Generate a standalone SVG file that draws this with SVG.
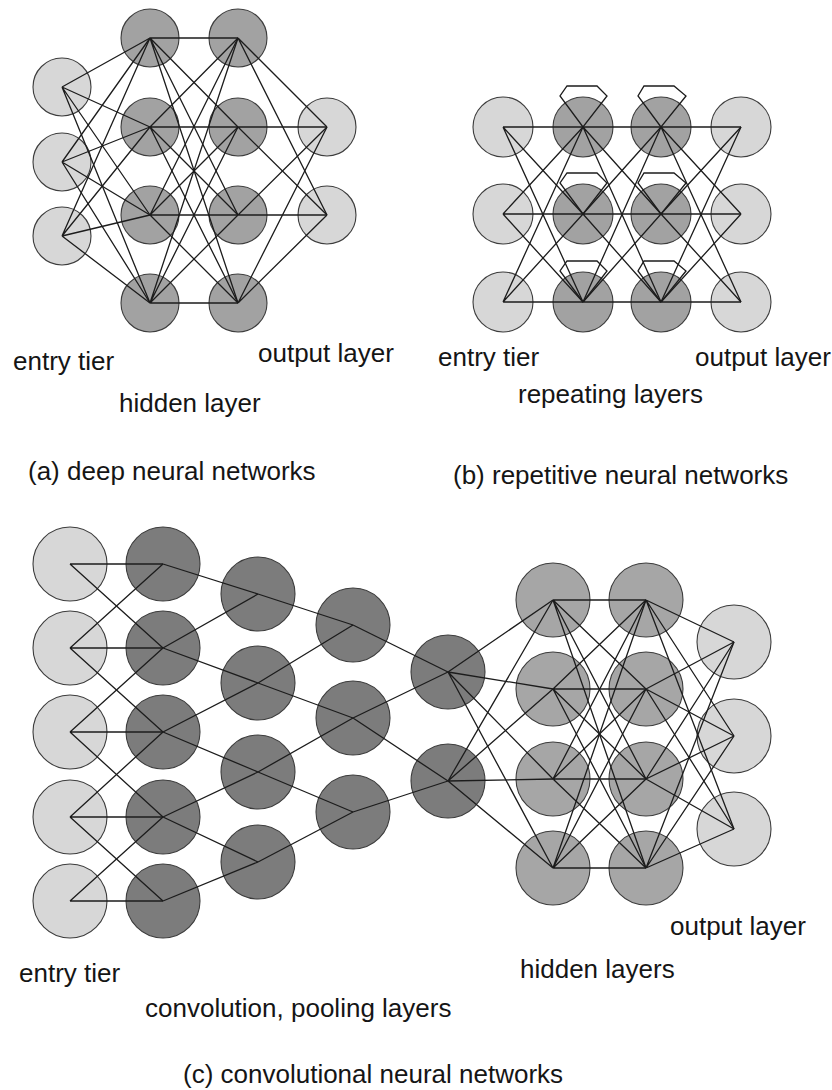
<svg xmlns="http://www.w3.org/2000/svg" width="832" height="1090" viewBox="0 0 832 1090">
<style>
.n{stroke:#3c3c3c;stroke-width:1.1}
.lt{fill:#d7d7d7}
.md{fill:#a2a2a2}
.mc{fill:#a6a6a6}
.dk{fill:#7c7c7c}
.e{fill:none;stroke:#1c1c1c;stroke-width:1.3;stroke-linejoin:miter}
text{font-family:"Liberation Sans",Arial,sans-serif;font-size:26px;fill:#151515}
</style>
<rect width="832" height="1090" fill="#ffffff"/>

<!-- Panel (a) nodes -->
<g id="a-in1"><circle class="n lt" cx="62" cy="87" r="29"/></g>
<g id="a-in2"><circle class="n lt" cx="62" cy="162" r="29"/></g>
<g id="a-in3"><circle class="n lt" cx="62" cy="236" r="29"/></g>
<g id="a-h1-1"><circle class="n md" cx="150" cy="38" r="29"/></g>
<g id="a-h1-2"><circle class="n md" cx="150" cy="127" r="29"/></g>
<g id="a-h1-3"><circle class="n md" cx="150" cy="215" r="29"/></g>
<g id="a-h1-4"><circle class="n md" cx="150" cy="303" r="29"/></g>
<g id="a-h2-1"><circle class="n md" cx="238" cy="38" r="29"/></g>
<g id="a-h2-2"><circle class="n md" cx="238" cy="127" r="29"/></g>
<g id="a-h2-3"><circle class="n md" cx="238" cy="215" r="29"/></g>
<g id="a-h2-4"><circle class="n md" cx="238" cy="303" r="29"/></g>
<g id="a-out1"><circle class="n lt" cx="327" cy="127" r="29"/></g>
<g id="a-out2"><circle class="n lt" cx="327" cy="215" r="29"/></g>

<!-- Panel (b) nodes -->
<g id="b-in1"><circle class="n lt" cx="503" cy="127" r="30"/></g>
<g id="b-in2"><circle class="n lt" cx="503" cy="214" r="30"/></g>
<g id="b-in3"><circle class="n lt" cx="503" cy="302" r="30"/></g>
<g id="b-h1-1"><circle class="n md" cx="583" cy="127" r="30"/></g>
<g id="b-h1-2"><circle class="n md" cx="583" cy="214" r="30"/></g>
<g id="b-h1-3"><circle class="n md" cx="583" cy="302" r="30"/></g>
<g id="b-h2-1"><circle class="n md" cx="661" cy="127" r="30"/></g>
<g id="b-h2-2"><circle class="n md" cx="661" cy="214" r="30"/></g>
<g id="b-h2-3"><circle class="n md" cx="661" cy="302" r="30"/></g>
<g id="b-out1"><circle class="n lt" cx="741" cy="127" r="30"/></g>
<g id="b-out2"><circle class="n lt" cx="741" cy="214" r="30"/></g>
<g id="b-out3"><circle class="n lt" cx="741" cy="302" r="30"/></g>

<!-- Panel (c) nodes -->
<g id="c-in1"><circle class="n lt" cx="70" cy="564" r="37"/></g>
<g id="c-in2"><circle class="n lt" cx="70" cy="648" r="37"/></g>
<g id="c-in3"><circle class="n lt" cx="70" cy="732" r="37"/></g>
<g id="c-in4"><circle class="n lt" cx="70" cy="817" r="37"/></g>
<g id="c-in5"><circle class="n lt" cx="70" cy="901" r="37"/></g>
<g id="c-c1-1"><circle class="n dk" cx="163" cy="564" r="37"/></g>
<g id="c-c1-2"><circle class="n dk" cx="163" cy="648" r="37"/></g>
<g id="c-c1-3"><circle class="n dk" cx="163" cy="732" r="37"/></g>
<g id="c-c1-4"><circle class="n dk" cx="163" cy="817" r="37"/></g>
<g id="c-c1-5"><circle class="n dk" cx="163" cy="901" r="37"/></g>
<g id="c-c2-1"><circle class="n dk" cx="258" cy="594" r="37"/></g>
<g id="c-c2-2"><circle class="n dk" cx="258" cy="683" r="37"/></g>
<g id="c-c2-3"><circle class="n dk" cx="258" cy="772" r="37"/></g>
<g id="c-c2-4"><circle class="n dk" cx="258" cy="862" r="37"/></g>
<g id="c-c3-1"><circle class="n dk" cx="353" cy="625" r="37"/></g>
<g id="c-c3-2"><circle class="n dk" cx="353" cy="718" r="37"/></g>
<g id="c-c3-3"><circle class="n dk" cx="353" cy="812" r="37"/></g>
<g id="c-c4-1"><circle class="n dk" cx="448" cy="672" r="37"/></g>
<g id="c-c4-2"><circle class="n dk" cx="448" cy="781" r="37"/></g>
<g id="c-h1-1"><circle class="n mc" cx="553" cy="600" r="37"/></g>
<g id="c-h1-2"><circle class="n mc" cx="553" cy="689" r="37"/></g>
<g id="c-h1-3"><circle class="n mc" cx="553" cy="779" r="37"/></g>
<g id="c-h1-4"><circle class="n mc" cx="553" cy="868" r="37"/></g>
<g id="c-h2-1"><circle class="n mc" cx="646" cy="600" r="37"/></g>
<g id="c-h2-2"><circle class="n mc" cx="646" cy="689" r="37"/></g>
<g id="c-h2-3"><circle class="n mc" cx="646" cy="779" r="37"/></g>
<g id="c-h2-4"><circle class="n mc" cx="646" cy="868" r="37"/></g>
<g id="c-out1"><circle class="n lt" cx="734" cy="642" r="37"/></g>
<g id="c-out2"><circle class="n lt" cx="734" cy="736" r="37"/></g>
<g id="c-out3"><circle class="n lt" cx="734" cy="829" r="37"/></g>

<g id="connectors">
<!-- (a) -->
<path class="e" d="M62 87L150 38M62 87L150 127M62 87L150 215M62 87L150 303"/>
<path class="e" d="M62 162L150 38M62 162L150 127M62 162L150 215M62 162L150 303"/>
<path class="e" d="M62 236L150 38M62 236L150 127M62 236L150 215M62 236L150 303"/>
<path class="e" d="M150 38L238 38M150 38L238 127M150 38L238 215M150 38L238 303"/>
<path class="e" d="M150 127L238 38M150 127L238 127M150 127L238 215M150 127L238 303"/>
<path class="e" d="M150 215L238 38M150 215L238 127M150 215L238 215M150 215L238 303"/>
<path class="e" d="M150 303L238 38M150 303L238 127M150 303L238 215M150 303L238 303"/>
<path class="e" d="M238 38L327 127M238 38L327 215"/>
<path class="e" d="M238 127L327 127M238 127L327 215"/>
<path class="e" d="M238 215L327 127M238 215L327 215"/>
<path class="e" d="M238 303L327 127M238 303L327 215"/>
<!-- (b) -->
<path class="e" d="M503 127L583 127M503 127L583 214M503 127L583 302"/>
<path class="e" d="M503 214L583 127M503 214L583 214M503 214L583 302"/>
<path class="e" d="M503 302L583 127M503 302L583 214M503 302L583 302"/>
<path class="e" d="M583 127L661 127M583 127L661 214M583 127L661 302"/>
<path class="e" d="M583 214L661 127M583 214L661 214M583 214L661 302"/>
<path class="e" d="M583 302L661 127M583 302L661 214M583 302L661 302"/>
<path class="e" d="M661 127L741 127M661 127L741 214M661 127L741 302"/>
<path class="e" d="M661 214L741 127M661 214L741 214M661 214L741 302"/>
<path class="e" d="M661 302L741 127M661 302L741 214M661 302L741 302"/>
<path class="e" d="M583 127L560 96L567 86L597 86L607 96Z"/>
<path class="e" d="M583 214L560 183L567 173L597 173L607 183Z"/>
<path class="e" d="M583 302L560 271L567 261L597 261L607 271Z"/>
<path class="e" d="M661 127L638 96L644 86L674 86L686 96Z"/>
<path class="e" d="M661 214L638 183L644 173L674 173L686 183Z"/>
<path class="e" d="M661 302L638 271L644 261L674 261L686 271Z"/>
<!-- (c) -->
<path class="e" d="M70 564L163 564M70 564L163 648"/>
<path class="e" d="M70 648L163 564M70 648L163 648M70 648L163 732"/>
<path class="e" d="M70 732L163 648M70 732L163 732M70 732L163 817"/>
<path class="e" d="M70 817L163 732M70 817L163 817M70 817L163 901"/>
<path class="e" d="M70 901L163 817M70 901L163 901"/>
<path class="e" d="M163 564L258 594"/>
<path class="e" d="M163 648L258 594M163 648L258 683"/>
<path class="e" d="M163 732L258 683M163 732L258 772"/>
<path class="e" d="M163 817L258 772M163 817L258 862"/>
<path class="e" d="M163 901L258 862"/>
<path class="e" d="M258 594L353 625"/>
<path class="e" d="M258 683L353 625M258 683L353 718"/>
<path class="e" d="M258 772L353 718M258 772L353 812"/>
<path class="e" d="M258 862L353 812"/>
<path class="e" d="M353 625L448 672"/>
<path class="e" d="M353 718L448 672M353 718L448 781"/>
<path class="e" d="M353 812L448 781"/>
<path class="e" d="M448 672L553 600M448 672L553 689M448 672L553 779M448 672L553 868"/>
<path class="e" d="M448 781L553 600M448 781L553 689M448 781L553 779M448 781L553 868"/>
<path class="e" d="M553 600L646 600M553 600L646 689M553 600L646 779M553 600L646 868"/>
<path class="e" d="M553 689L646 600M553 689L646 689M553 689L646 779M553 689L646 868"/>
<path class="e" d="M553 779L646 600M553 779L646 689M553 779L646 779M553 779L646 868"/>
<path class="e" d="M553 868L646 600M553 868L646 689M553 868L646 779M553 868L646 868"/>
<path class="e" d="M646 600L734 642M646 600L734 736M646 600L734 829"/>
<path class="e" d="M646 689L734 642M646 689L734 736M646 689L734 829"/>
<path class="e" d="M646 779L734 642M646 779L734 736M646 779L734 829"/>
<path class="e" d="M646 868L734 642M646 868L734 736M646 868L734 829"/>
</g>

<g id="labels">
<text x="13" y="370">entry tier</text>
<text x="258" y="362">output layer</text>
<text x="119" y="412">hidden layer</text>
<text x="28" y="480">(a) deep neural networks</text>
<text x="438" y="366">entry tier</text>
<text x="695" y="366">output layer</text>
<text x="518" y="403">repeating layers</text>
<text x="453" y="484">(b) repetitive neural networks</text>
<text x="670" y="935">output layer</text>
<text x="19" y="982">entry tier</text>
<text x="520" y="978">hidden layers</text>
<text x="145" y="1017">convolution, pooling layers</text>
<text x="183" y="1083">(c) convolutional neural networks</text>
</g>
</svg>
